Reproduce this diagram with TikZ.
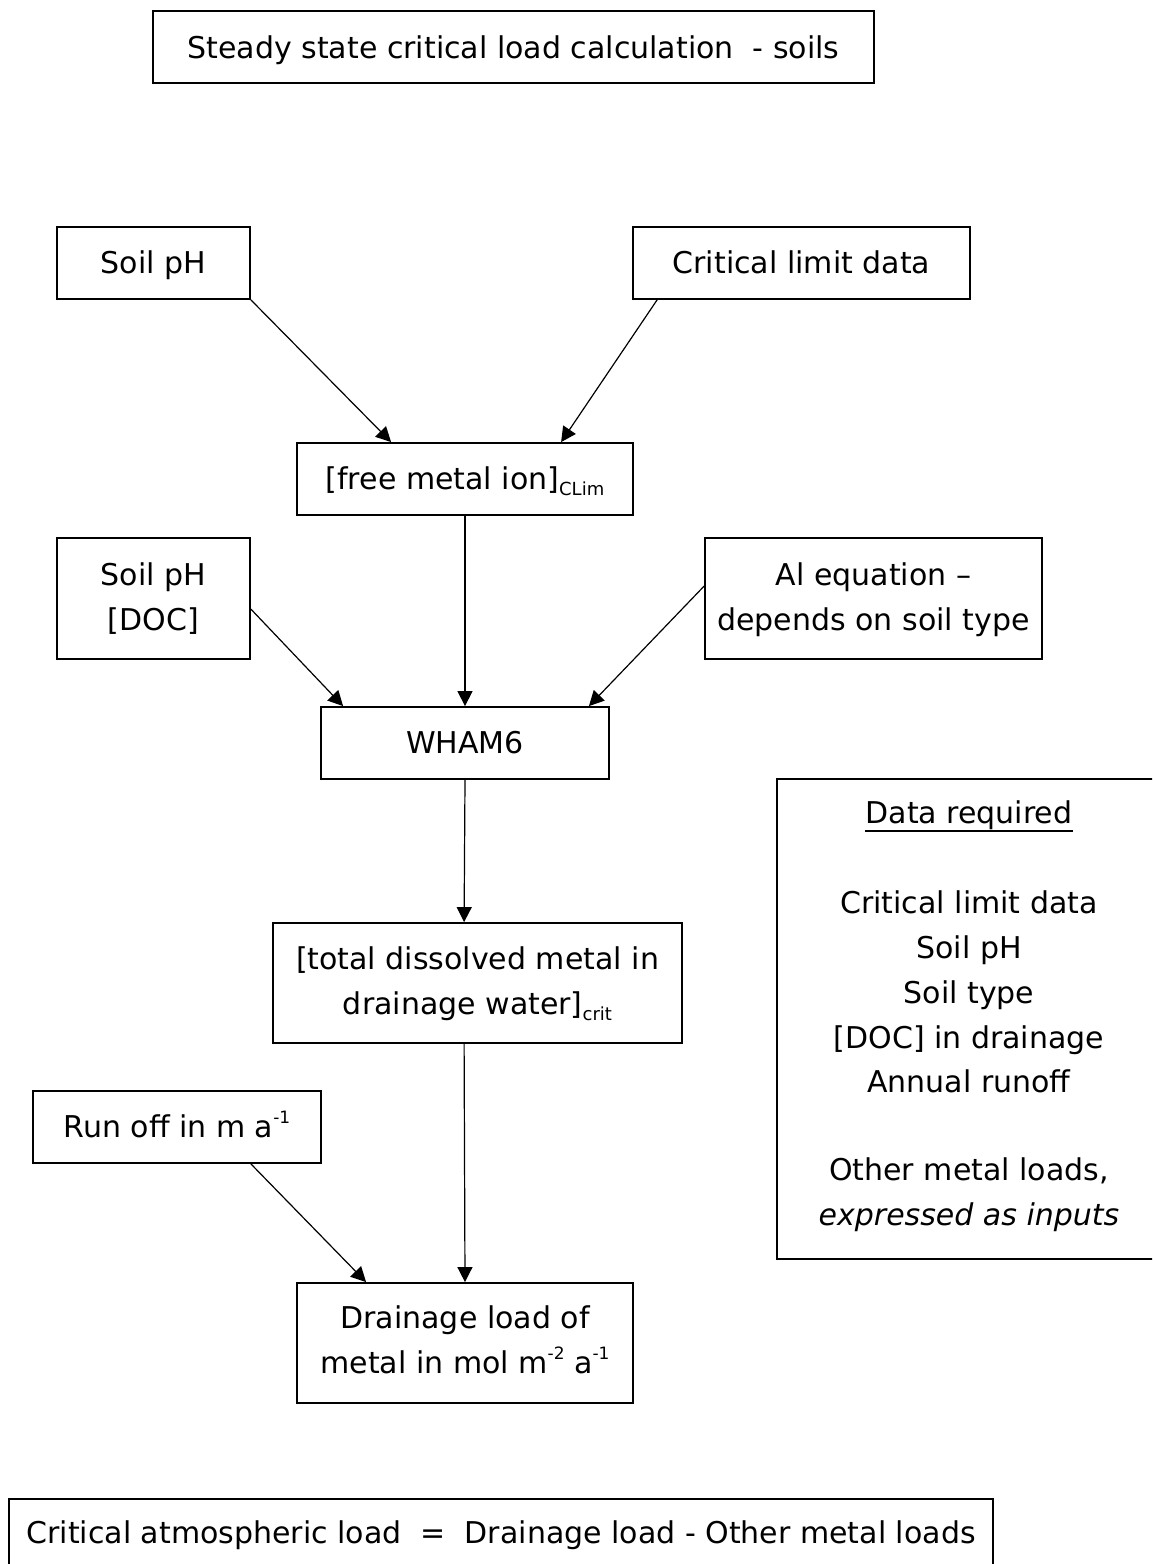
\documentclass[tikz,border=0pt]{standalone}
\usepackage{fontspec}
\setmainfont{DejaVu Sans}
\usetikzlibrary{arrows.meta,calc}
\newcommand\subtx[1]{\raisebox{-6pt}{\fontsize{18}{18}\selectfont #1}}
\newcommand\suptx[1]{\raisebox{14pt}{\fontsize{17}{17}\selectfont #1}}
\begin{document}
\begin{tikzpicture}[x=1pt,y=-1pt,
  box/.style={draw,line width=1.8pt,inner sep=0pt,minimum width=#1},
  txt/.style={anchor=base,inner sep=0pt,font=\fontsize{30}{36}\selectfont},
  arr/.style={line width=1.2pt,-{Triangle[length=15pt,width=15pt]}}]
\clip (0,0) rectangle (1152,1564);
% boxes
\node[box=721pt,minimum height=72pt] (title) at (513.5,47) {};
\node[box=193pt,minimum height=72pt] (soilA) at (153.5,263) {};
\node[box=337pt,minimum height=72pt] (crit) at (801.5,263) {};
\node[box=336pt,minimum height=72pt] (free) at (465,479) {};
\node[box=193pt,minimum height=121pt] (soilB) at (153.5,598.5) {};
\node[box=337pt,minimum height=121pt] (aleq) at (873.5,598.5) {};
\node[box=288pt,minimum height=72pt] (wham) at (465,743) {};
\node[box=384pt,minimum height=480pt] (data) at (969,1019) {};
\node[box=409pt,minimum height=120pt] (total) at (477.5,983) {};
\node[box=288pt,minimum height=72pt] (runoff) at (177,1127) {};
\node[box=336pt,minimum height=120pt] (drain) at (465,1343) {};
\node[box=984pt,minimum height=91pt] (result) at (501,1544.5) {};
% texts
\node[txt] (tTitle) at (513.5,58) {Steady state critical load calculation\ \ - soils};
\node[txt] (tSoilA) at (153.5,273) {Soil pH};
\node[txt] (tCrit) at (801.5,273) {Critical limit data};
\node[txt] (tFree) at (465,489) {[free metal ion]\subtx{CLim}};
\node[txt] (tSoilB1) at (153.5,585) {Soil pH};
\node[txt] (tSoilB2) at (153.5,630) {[DOC]};
\node[txt] (tAl1) at (873.5,585) {Al equation –};
\node[txt] (tAl2) at (873.5,630) {depends on soil type};
\node[txt] (tWham) at (465,753) {WHAM6};
\node[txt] (tData0) at (969,823) {Data required};
\node[txt] (tData1) at (969,913) {Critical limit data};
\node[txt] (tData2) at (969,958) {Soil pH};
\node[txt] (tData3) at (969,1003) {Soil type};
\node[txt] (tData4) at (969,1048) {[DOC] in drainage};
\node[txt] (tData5) at (969,1092) {Annual runoff};
\node[txt] (tData6) at (969,1180) {Other metal loads,};
\node[txt] (tData7) at (969,1225) {\itshape expressed as inputs};
\node[txt] (tTot1) at (477.5,969) {[total dissolved metal in};
\node[txt] (tTot2) at (477.5,1014) {drainage water]\subtx{crit}};
\node[txt] (tRun) at (177,1137) {Run off in m a\suptx{-1}};
\node[txt] (tDr1) at (465,1328) {Drainage load of};
\node[txt] (tDr2) at (465,1373) {metal in mol m\suptx{-2} a\suptx{-1}};
\node[txt] (tRes) at (501,1543) {Critical atmospheric load\ \ =\ \ Drainage load - Other metal loads};
% underline
\draw[line width=2.6pt] ($(tData0.base west)+(0,8)$) -- ($(tData0.base east)+(0,8)$);
% arrows
\draw[arr] (soilA.south east) -- ($(free.north west)+(95,0)$);
\draw[arr] ($(crit.south west)+(25,0)$) -- ($(free.north west)+(265,0)$);
\draw[arr] (free.south) -- (wham.north);
\draw[arr] ($(soilB.north east)+(0,72)$) -- ($(wham.north west)+(23,0)$);
\draw[arr] ($(aleq.north west)+(0,49)$) -- ($(wham.north east)+(-21,0)$);
\draw[arr] (wham.south) -- ($(total.north west)+(192,0)$);
\draw[arr] ($(total.south west)+(192,0)$) -- (drain.north);
\draw[arr] ($(runoff.south east)+(-71,0)$) -- ($(drain.north west)+(70,0)$);
\end{tikzpicture}
\end{document}
